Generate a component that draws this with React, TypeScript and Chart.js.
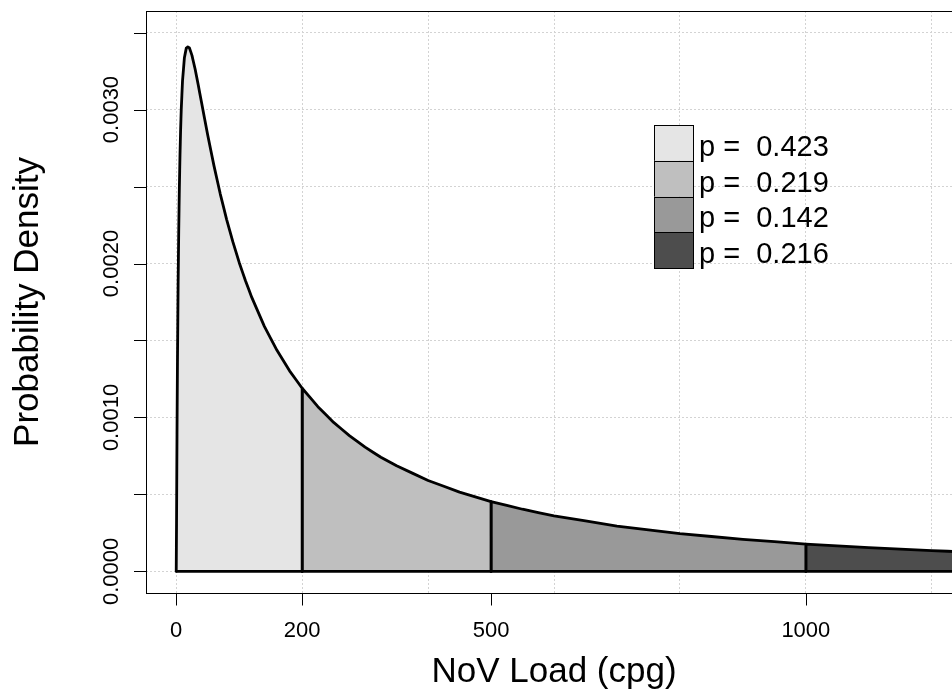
import React, { useEffect, useRef } from 'react';
import { Chart, registerables } from 'chart.js';

Chart.register(...registerables);

// NoV load (cpg) sample positions
const loadX = [
  0, 0.5, 1, 1.5, 2, 3, 4, 5, 6, 7, 8, 10, 13, 16, 18.4, 21, 25, 30, 35, 40,
  50, 60, 70, 80, 90, 100, 110, 120, 140, 160, 180, 200, 225, 250, 275, 300,
  325, 350, 400, 450, 500, 550, 600, 700, 800, 900, 1000, 1100, 1200, 1250,
];
// probability density at those positions
const density = [
  0, 0.00031, 0.000713, 0.001069, 0.001374, 0.001859, 0.002221, 0.002495,
  0.002707, 0.002872, 0.003001, 0.003186, 0.003337, 0.003399, 0.003407,
  0.0034, 0.003352, 0.003263, 0.003159, 0.00305, 0.002835, 0.002634,
  0.002451, 0.002287, 0.00214, 0.002007, 0.001888, 0.00178, 0.001592,
  0.001436, 0.001303, 0.00119, 0.00107, 0.000968, 0.000882, 0.000807,
  0.000742, 0.000686, 0.000591, 0.000515, 0.000454, 0.000404, 0.000361,
  0.000295, 0.000246, 0.000208, 0.000178, 0.000155, 0.000135, 0.000127,
];
const breaks = [0, 200, 500, 1000, 1250];
const fillColors = ['#E5E5E5', '#BFBFBF', '#999999', '#4D4D4D'];
const probLabels = ['p =  0.423', 'p =  0.219', 'p =  0.142', 'p =  0.216'];

const xTickValues = [0, 200, 500, 1000];
const xTickLabels = ['0', '200', '500', '1000'];
const xGridValues = [0, 200, 400, 600, 800, 1000, 1200];
const yTickValues = [0, 0.0005, 0.001, 0.0015, 0.002, 0.0025, 0.003, 0.0035];
const yLabelValues = [0, 0.001, 0.002, 0.003];
const yLabelTexts = ['0.0000', '0.0010', '0.0020', '0.0030'];
const xTitle = 'NoV Load (cpg)';
const yTitle = 'Probability Density';

const FONT = '"Liberation Sans", Arial, Helvetica, sans-serif';

const rAxesPlugin = {
  id: 'rAxes',
  afterDraw(chart: any) {
    const { ctx, chartArea } = chart;
    const { left, right, top, bottom } = chartArea;
    const xs = chart.scales.x;
    const ys = chart.scales.y;
    ctx.save();
    ctx.strokeStyle = '#000';
    ctx.lineWidth = 1;
    // box
    ctx.strokeRect(Math.round(left) + 0.5, Math.round(top) + 0.5, Math.round(right - left), Math.round(bottom - top));
    // y ticks
    ctx.beginPath();
    yTickValues.forEach((v) => {
      const y = Math.round(ys.getPixelForValue(v)) + 0.5;
      ctx.moveTo(Math.round(left) - 12, y);
      ctx.lineTo(Math.round(left), y);
    });
    // x ticks
    xTickValues.forEach((v) => {
      const x = Math.round(xs.getPixelForValue(v)) + 0.5;
      ctx.moveTo(x, Math.round(bottom) + 0.5);
      ctx.lineTo(x, Math.round(bottom) + 12.5);
    });
    ctx.stroke();

    ctx.fillStyle = '#000';
    // x tick labels
    ctx.font = `22px ${FONT}`;
    ctx.textAlign = 'center';
    ctx.textBaseline = 'alphabetic';
    xTickValues.forEach((v, i) => {
      ctx.fillText(xTickLabels[i], xs.getPixelForValue(v), bottom + 44);
    });
    // y tick labels (rotated)
    yLabelValues.forEach((v, i) => {
      ctx.save();
      ctx.translate(left - 28, ys.getPixelForValue(v));
      ctx.rotate(-Math.PI / 2);
      ctx.fillText(yLabelTexts[i], 0, 0);
      ctx.restore();
    });
    // titles
    ctx.font = `35px ${FONT}`;
    ctx.fillText(xTitle, (left + right) / 2, bottom + 89);
    ctx.save();
    ctx.translate(left - 108, (top + bottom) / 2);
    ctx.rotate(-Math.PI / 2);
    ctx.fillText(yTitle, 0, 0);
    ctx.restore();

    // legend
    const lx = left + 508;
    const ly = top + 114;
    const bw = 39;
    const rh = 35.75;
    ctx.font = `29px ${FONT}`;
    ctx.textAlign = 'left';
    fillColors.forEach((c, i) => {
      const y0 = ly + i * rh;
      ctx.fillStyle = c;
      ctx.fillRect(lx, y0, bw, rh);
      ctx.strokeStyle = '#000';
      ctx.lineWidth = 1;
      ctx.strokeRect(lx + 0.5, Math.round(y0) + 0.5, bw, Math.round(rh));
      ctx.fillStyle = '#000';
      ctx.fillText(probLabels[i], lx + bw + 6, y0 + rh / 2 + 13);
    });
    ctx.restore();
  },
};

export default function App() {
  const ref = useRef<HTMLCanvasElement>(null);
  useEffect(() => {
    const regionSets = fillColors.map((c, i) => {
      const a = breaks[i];
      const b = breaks[i + 1];
      const pts: { x: number; y: number }[] = [{ x: a, y: 0 }];
      loadX.forEach((x, j) => {
        if (x >= a && x <= b) pts.push({ x, y: density[j] });
      });
      pts.push({ x: b, y: 0 });
      return {
        data: pts,
        backgroundColor: c,
        borderColor: '#000',
        borderWidth: 2.8,
        fill: 'origin',
        pointRadius: 0,
        tension: 0.001,
        borderJoinStyle: 'round' as const,
        borderCapStyle: 'round' as const,
        order: 0,
      };
    });
    const baseline = {
      data: [
        { x: breaks[0], y: 0 },
        { x: breaks[breaks.length - 1], y: 0 },
      ],
      borderColor: '#000',
      borderWidth: 2.8,
      fill: false,
      pointRadius: 0,
      tension: 0.001,
      order: -1,
    };
    const chart = new Chart(ref.current!, {
      type: 'line',
      data: { datasets: [...regionSets, baseline] as any },
      plugins: [rAxesPlugin],
      options: {
        responsive: false,
        animation: false,
        devicePixelRatio: 1,
        layout: { padding: { left: 146, top: 11, right: 8, bottom: 97 } },
        plugins: { legend: { display: false }, tooltip: { enabled: false } },
        scales: {
          x: {
            type: 'linear',
            min: -48,
            max: 1248,
            afterBuildTicks: (s: any) => {
              s.ticks = xGridValues.map((v) => ({ value: v }));
            },
            ticks: { display: false },
            grid: { color: '#D3D3D3', lineWidth: 1, drawTicks: false },
            border: { display: false, dash: [2, 2] },
          },
          y: {
            type: 'linear',
            min: -0.00014,
            max: 0.00364,
            afterBuildTicks: (s: any) => {
              s.ticks = yTickValues.map((v) => ({ value: v }));
            },
            ticks: { display: false },
            grid: { color: '#D3D3D3', lineWidth: 1, drawTicks: false },
            border: { display: false, dash: [2, 2] },
          },
        },
      } as any,
    });
    return () => chart.destroy();
  }, []);
  return (
    <div
      style={{
        position: 'absolute',
        left: 0,
        top: 0,
        width: 952,
        height: 690,
        overflow: 'hidden',
        background: '#fff',
      }}
    >
      <canvas ref={ref} width={970} height={690} style={{ display: 'block', width: 970, height: 690 }} />
    </div>
  );
}
